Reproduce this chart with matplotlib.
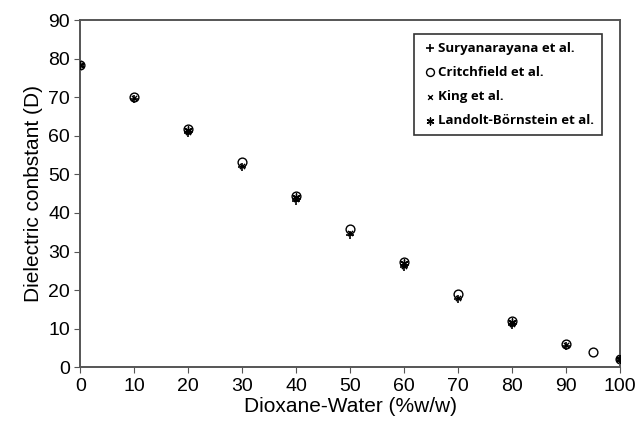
import matplotlib.pyplot as plt

# dioxane content (%w/w)
x_sury = [0, 10, 20, 30, 40, 50, 60, 70, 80, 90, 100]
y_sury = [78.5, 69.6, 60.8, 52.0, 43.0, 34.3, 25.9, 17.7, 10.9, 5.6, 2.2]

x_crit = [0, 10, 20, 30, 40, 50, 60, 70, 80, 90, 95, 100]
y_crit = [78.5, 70.2, 61.9, 53.3, 44.5, 35.8, 27.2, 18.9, 12.0, 6.1, 3.8, 2.2]

x_king = [0, 10, 20, 30, 40, 50, 60, 70, 80, 90, 100]
y_king = [78.5, 69.8, 61.0, 52.3, 43.5, 34.8, 26.2, 18.0, 11.2, 5.8, 2.2]

x_land = [0, 20, 40, 60, 80, 100]
y_land = [78.5, 61.5, 44.2, 27.0, 11.6, 2.2]

plt.rcParams['font.family'] = ['Liberation Sans', 'DejaVu Sans']

fig = plt.figure(figsize=(6.38, 4.22), dpi=100)
ax = fig.add_axes([0.126, 0.13, 0.846, 0.822])

ax.scatter(x_sury, y_sury, marker='+', s=40, color='black', linewidths=1.2,
           label='Suryanarayana et al.', zorder=3)
ax.scatter(x_crit, y_crit, marker='o', s=40, facecolors='white', edgecolors='black',
           linewidths=1.0, label='Critchfield et al.', zorder=2)
ax.scatter(x_king, y_king, marker='x', s=14, color='black', linewidths=1.0,
           label='King et al.', zorder=3)
ax.scatter(x_land, y_land, marker=(6, 2, 0), s=30, color='black', linewidths=1.0,
           label='Landolt-Börnstein et al.', zorder=3)

ax.set_xlim(0, 100)
ax.set_ylim(0, 90)
ax.set_xticks(range(0, 101, 10))
ax.set_yticks(range(0, 91, 10))
ax.tick_params(labelsize=14, length=4, color='#555555', direction='out')
for s in ax.spines.values():
    s.set_color('#555555')
    s.set_linewidth(1.4)

ax.set_xlabel('Dioxane-Water (%w/w)', fontsize=15, labelpad=2)
ax.set_ylabel('Dielectric conbstant (D)', fontsize=15, labelpad=4)

leg = ax.legend(loc='upper right', bbox_to_anchor=(0.978, 0.98),
                prop={'weight': 'bold', 'size': 9.5, 'family': 'Open Sans'},
                frameon=True, fancybox=False, edgecolor='black',
                handletextpad=0.0, labelspacing=0.85, borderpad=0.6,
                handlelength=1.2, markerscale=0.9)
leg.get_frame().set_linewidth(1.2)

fig.savefig('out.png', dpi=100)
